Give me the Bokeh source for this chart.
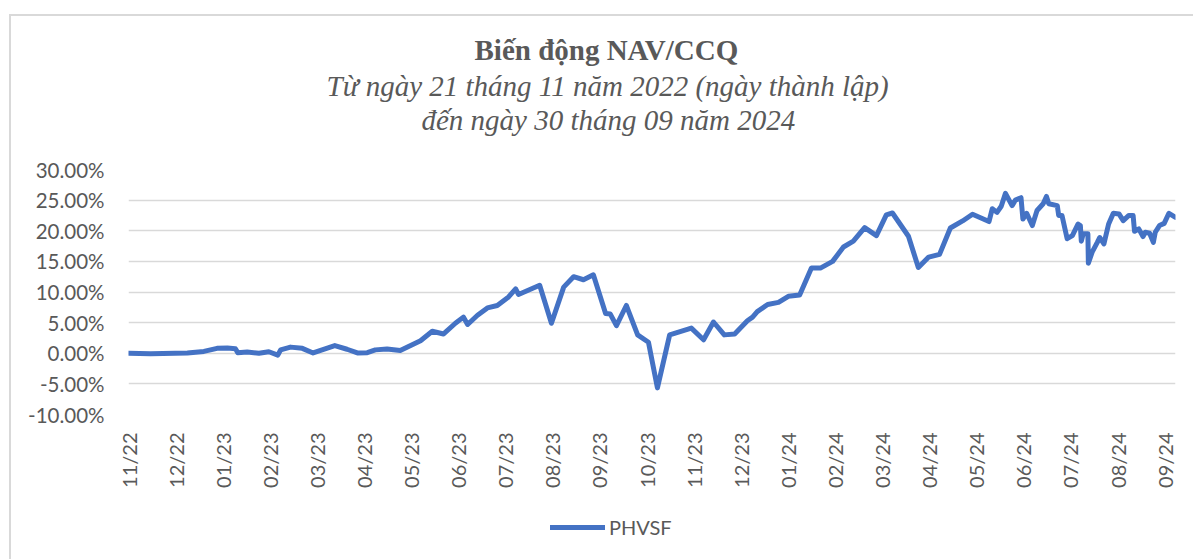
from bokeh.plotting import figure
from bokeh.models import (Range1d, FixedTicker, NumeralTickFormatter, Title,
                          Legend, LegendItem)
from bokeh.layouts import column
from bokeh.embed import file_html
from bokeh.resources import INLINE
import math

# ---- data ----
month_labels = ["11/22", "12/22", "01/23", "02/23", "03/23", "04/23", "05/23",
                "06/23", "07/23", "08/23", "09/23", "10/23", "11/23", "12/23",
                "01/24", "02/24", "03/24", "04/24", "05/24", "06/24", "07/24",
                "08/24", "09/24"]

# months elapsed since fund launch (21/11/2022)
t_month = [0.00, 0.47, 1.25, 1.60, 1.88, 2.10, 2.27, 2.32, 2.52, 2.77, 2.98, 3.17,
           3.23, 3.44, 3.69, 3.92, 4.11, 4.38, 4.64, 4.86, 5.07, 5.24, 5.49, 5.77,
           6.20, 6.45, 6.69, 6.94, 7.11, 7.20, 7.41, 7.62, 7.83, 8.07, 8.22, 8.28,
           8.73, 8.98, 9.24, 9.45, 9.66, 9.87, 10.13, 10.23, 10.36, 10.57, 10.81,
           11.04, 11.23, 11.49, 11.95, 12.21, 12.42, 12.65, 12.87, 13.14, 13.25,
           13.35, 13.57, 13.80, 14.01, 14.25, 14.50, 14.69, 14.95, 15.18, 15.39,
           15.63, 15.88, 16.09, 16.22, 16.56, 16.77, 16.99, 17.22, 17.45, 17.71,
           17.92, 18.27, 18.34, 18.44, 18.53, 18.62, 18.76, 18.83, 18.95, 18.99,
           19.07, 19.19, 19.29, 19.42, 19.49, 19.54, 19.72, 19.75, 19.82, 19.93,
           20.04, 20.16, 20.21, 20.23, 20.27, 20.37, 20.38, 20.46, 20.57, 20.62,
           20.71, 20.81, 20.91, 21.03, 21.12, 21.24, 21.33, 21.36, 21.45, 21.54,
           21.59, 21.68, 21.76, 21.80, 21.89, 21.99, 22.09, 22.23]

# NAV/unit change vs launch, in percent
nav_pct = [0.00, -0.10, 0.05, 0.30, 0.80, 0.85, 0.75, 0.10, 0.20, 0.00, 0.25, -0.30,
           0.55, 1.00, 0.80, 0.05, 0.55, 1.25, 0.65, 0.05, 0.10, 0.55, 0.70, 0.45,
           2.05, 3.60, 3.15, 4.90, 5.90, 4.70, 6.20, 7.40, 7.80, 9.20, 10.50, 9.60,
           11.10, 4.90, 10.80, 12.50, 12.00, 12.80, 6.50, 6.40, 4.50, 7.80, 3.00,
           1.80, -5.65, 3.00, 4.10, 2.20, 5.10, 3.00, 3.15, 5.30, 5.90,
           6.80, 7.95, 8.30, 9.30, 9.50, 13.90, 13.90, 15.00, 17.35, 18.30,
           20.50, 19.20, 22.60, 22.90, 19.10, 14.00, 15.70, 16.15, 20.45, 21.60,
           22.70, 21.50, 23.60, 23.00, 24.00, 26.10, 24.10, 25.00, 25.40, 21.90,
           22.85, 20.85, 23.30, 24.40, 25.60, 24.40, 24.10, 22.50, 22.50, 18.70,
           19.20, 21.10, 20.85, 18.30, 19.50, 19.50, 14.70, 16.50, 18.10, 18.90,
           17.85, 21.10, 22.85, 22.75, 21.65, 22.50, 22.50, 19.90, 20.30, 19.05,
           19.75, 19.60, 18.10, 19.75, 20.85, 21.20, 22.85, 22.20]

y_ticks_pct = [-10, -5, 0, 5, 10, 15, 20, 25, 30]

series_name = "PHVSF"
title_main = "Biến động NAV/CCQ"
title_sub1 = "Từ ngày 21 tháng 11 năm 2022 (ngày thành lập)"
title_sub2 = "đến ngày 30 tháng 09 năm 2024"

# ---- styling ----
GREY_TXT = "#595959"
BLUE = "#4472C4"
TICK_FONT = "Lato"
TITLE_FONT = "Liberation Serif"

nav_frac = [v / 100.0 for v in nav_pct]

# ---- main chart ----
p = figure(width=1182, height=479,
           x_range=Range1d(t_month[0], t_month[-1]),
           y_range=Range1d(y_ticks_pct[0] / 100.0, y_ticks_pct[-1] / 100.0),
           output_backend="svg", toolbar_location=None,
           min_border_left=117, min_border_right=18,
           min_border_top=153, min_border_bottom=81)
p.outline_line_color = None
p.background_fill_color = "white"
p.border_fill_color = "white"

r = p.line(t_month, nav_frac, line_color=BLUE, line_width=5,
           line_join="round", line_cap="round")

# titles (added from the plot outwards); first one is only a spacer
p.add_layout(Title(text=" ", text_font=TITLE_FONT, text_font_size="29px",
                   standoff=0), "above")
p.add_layout(Title(text=title_sub2, align="left", offset=293, text_font=TITLE_FONT,
                   text_font_size="29px", text_font_style="italic",
                   text_color=GREY_TXT, standoff=0), "above")
p.add_layout(Title(text=title_sub1, align="left", offset=198, text_font=TITLE_FONT,
                   text_font_size="29px", text_font_style="italic",
                   text_color=GREY_TXT, standoff=0), "above")
p.add_layout(Title(text=title_main, align="left", offset=346, text_font=TITLE_FONT,
                   text_font_size="29px", text_font_style="bold",
                   text_color=GREY_TXT, standoff=4), "above")

# y axis
p.yaxis.ticker = FixedTicker(ticks=[v / 100.0 for v in y_ticks_pct])
p.yaxis.formatter = NumeralTickFormatter(format="0.00%")
p.yaxis.axis_line_color = None
p.yaxis.major_tick_line_color = None
p.yaxis.minor_tick_line_color = None
p.yaxis.major_tick_out = 0
p.yaxis.major_label_standoff = 24
p.yaxis.major_label_text_font = TICK_FONT
p.yaxis.major_label_text_font_size = "20.5px"
p.yaxis.major_label_text_color = GREY_TXT

# x axis
p.xaxis.ticker = FixedTicker(ticks=list(range(len(month_labels))))
p.xaxis.major_label_overrides = {i: lab for i, lab in enumerate(month_labels)}
p.xaxis.major_label_orientation = math.pi / 2
p.xaxis.axis_line_color = None
p.xaxis.major_tick_line_color = None
p.xaxis.minor_tick_line_color = None
p.xaxis.major_tick_out = 0
p.xaxis.major_label_standoff = 18
p.xaxis.major_label_text_font = TICK_FONT
p.xaxis.major_label_text_font_size = "20px"
p.xaxis.major_label_text_color = GREY_TXT

p.xgrid.grid_line_color = None
p.ygrid.grid_line_color = "#d9d9d9"
p.ygrid.grid_line_width = 1.5

# ---- legend strip below the chart (series kept out of view, only its key shows) ----
lg = figure(width=1182, height=64, x_range=Range1d(0, 1), y_range=Range1d(10, 11),
            x_axis_type=None, y_axis_type=None,
            output_backend="svg", toolbar_location=None, min_border=0)
lg.outline_line_color = None
lg.xgrid.grid_line_color = None
lg.ygrid.grid_line_color = None
r_key = lg.line(t_month, nav_frac, line_color=BLUE, line_width=5, line_cap="round")
legend = Legend(items=[LegendItem(label=series_name, renderers=[r_key])],
                location=(422, 20), orientation="horizontal",
                glyph_width=55, glyph_height=20, label_standoff=4,
                padding=0, margin=0, border_line_color=None,
                background_fill_alpha=0,
                label_text_font=TICK_FONT, label_text_font_size="20px",
                label_text_color=GREY_TXT)
lg.add_layout(legend)

layout = column(p, lg, spacing=0,
                styles={"position": "relative", "top": "14px", "left": "9px",
                        "border-top": "2px solid #d9d9d9",
                        "border-left": "2px solid #d9d9d9"})

open("out.html", "w").write(file_html(layout, INLINE))
